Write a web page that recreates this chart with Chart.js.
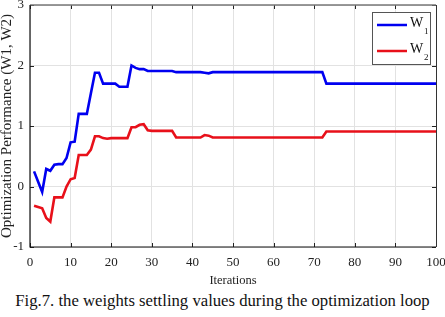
<!DOCTYPE html>
<html>
<head>
<meta charset="utf-8">
<script src="https://cdn.jsdelivr.net/npm/chart.js@4"></script>
<style>
html,body{margin:0;padding:0;background:#fff;}
#wrap{position:relative;width:445px;height:289px;}
#cap{width:445px;height:28px;text-align:center;font-family:"Liberation Serif",serif;font-size:16.7px;line-height:24px;color:#111;white-space:nowrap;}
</style>
</head>
<body>
<div id="wrap"><canvas id="c" width="445" height="289"></canvas></div>
<div id="cap">Fig.7. the weights settling values during the optimization loop</div>
<script>
const iterations = Array.from({length:100},(_,i)=>i+1);
const w1 = [0.25,0.08,-0.09,0.29,0.26,0.36,0.37,0.37,0.47,0.73,
            0.74,1.20,1.20,1.20,1.54,1.88,1.88,1.70,1.70,1.70,
            1.70,1.65,1.65,1.65,2.00,1.96,1.94,1.94,1.91,1.91,
            1.91,1.91,1.91,1.91,1.91,1.89,1.89,1.89,1.89,1.89,
            1.89,1.89,1.88,1.87,1.89,1.89,1.89,1.89,1.89,1.89,
            1.89,1.89,1.89,1.89,1.89,1.89,1.89,1.89,1.89,1.89,
            1.89,1.89,1.89,1.89,1.89,1.89,1.89,1.89,1.89,1.89,
            1.89,1.89,1.70,1.70,1.70,1.70,1.70,1.70,1.70,1.70,
            1.70,1.70,1.70,1.70,1.70,1.70,1.70,1.70,1.70,1.70,
            1.70,1.70,1.70,1.70,1.70,1.70,1.70,1.70,1.70,1.70];
const w2 = [-0.32,-0.34,-0.36,-0.52,-0.58,-0.18,-0.18,-0.18,0.00,0.12,
            0.14,0.52,0.52,0.52,0.61,0.83,0.83,0.80,0.79,0.80,
            0.80,0.80,0.80,0.80,0.98,0.98,1.02,1.03,0.93,0.92,
            0.92,0.92,0.92,0.92,0.92,0.81,0.81,0.81,0.81,0.81,
            0.81,0.81,0.85,0.84,0.81,0.81,0.81,0.81,0.81,0.81,
            0.81,0.81,0.81,0.81,0.81,0.81,0.81,0.81,0.81,0.81,
            0.81,0.81,0.81,0.81,0.81,0.81,0.81,0.81,0.81,0.81,
            0.81,0.81,0.91,0.91,0.91,0.91,0.91,0.91,0.91,0.91,
            0.91,0.91,0.91,0.91,0.91,0.91,0.91,0.91,0.91,0.91,
            0.91,0.91,0.91,0.91,0.91,0.91,0.91,0.91,0.91,0.91];
const seriesLabels = ['W1','W2'];
const xTicks = [0,10,20,30,40,50,60,70,80,90,100];
const yTicks = [-1,0,1,2,3];

const serif = '"Liberation Serif", "Times New Roman", serif';

const framePlugin = {
  id:'frame',
  afterDraw(chart){
    const {ctx, chartArea:a, scales} = chart;
    ctx.save();
    ctx.strokeStyle = '#222'; ctx.lineWidth = 1;
    yTicks.forEach(v=>{
      const y = Math.round(scales.y.getPixelForValue(v))+0.5;
      ctx.beginPath(); ctx.moveTo(a.left,y); ctx.lineTo(a.left+4,y);
      ctx.moveTo(a.right,y); ctx.lineTo(a.right-4,y); ctx.stroke();
    });
    xTicks.forEach(v=>{
      const x = Math.round(scales.x.getPixelForValue(v))+0.5;
      ctx.beginPath(); ctx.moveTo(x,a.bottom); ctx.lineTo(x,a.bottom-4);
      ctx.moveTo(x,a.top); ctx.lineTo(x,a.top+4); ctx.stroke();
    });
    ctx.strokeStyle = '#777'; ctx.lineWidth = 1.5;
    ctx.beginPath(); ctx.moveTo(a.left,a.top); ctx.lineTo(a.right,a.top); ctx.stroke();
    ctx.strokeStyle = '#333'; ctx.lineWidth = 1;
    ctx.beginPath(); ctx.moveTo(a.right+0.5,a.top); ctx.lineTo(a.right+0.5,a.bottom); ctx.stroke();
    ctx.strokeStyle = '#111'; ctx.lineWidth = 1.2;
    ctx.beginPath(); ctx.moveTo(a.left,a.top); ctx.lineTo(a.left,a.bottom); ctx.lineTo(a.right,a.bottom); ctx.stroke();
    const lx = a.left + 342, ly = a.top + 7, lw = 58, lh = 52;
    ctx.fillStyle = '#fff'; ctx.fillRect(lx,ly,lw,lh);
    ctx.strokeStyle = '#555'; ctx.lineWidth = 1; ctx.strokeRect(lx+0.5,ly+0.5,lw,lh);
    chart.data.datasets.forEach((ds,i)=>{
      const yy = ly + 13 + i*26;
      ctx.strokeStyle = ds.borderColor; ctx.lineWidth = 2.5;
      ctx.beginPath(); ctx.moveTo(lx+5,yy); ctx.lineTo(lx+35,yy); ctx.stroke();
      ctx.fillStyle = '#111'; ctx.textBaseline = 'alphabetic'; ctx.textAlign='left';
      ctx.font = '14px ' + serif;
      ctx.fillText(ds.label.charAt(0), lx+38, yy+2);
      ctx.font = '9px ' + serif;
      ctx.fillText(ds.label.slice(1), lx+52, yy+9);
    });
    ctx.restore();
  }
};

new Chart(document.getElementById('c'), {
  type:'line',
  data:{
    labels: iterations,
    datasets:[
      {label:seriesLabels[0], data: iterations.map((x,i)=>({x, y:w1[i]})), borderColor:'#0000f0', borderWidth:2.6, pointRadius:0, tension:0, fill:false},
      {label:seriesLabels[1], data: iterations.map((x,i)=>({x, y:w2[i]})), borderColor:'#e8101a', borderWidth:2.6, pointRadius:0, tension:0, fill:false}
    ]
  },
  options:{
    responsive:false,
    animation:false,
    events:[],
    layout:{padding:{top:5,right:9,bottom:0,left:0}},
    plugins:{legend:{display:false}, tooltip:{enabled:false}, title:{display:false}},
    scales:{
      x:{
        type:'linear', min:0, max:100,
        afterBuildTicks: s => { s.ticks = xTicks.map(v=>({value:v})); },
        afterFit: s => { s.height = 42; s.paddingLeft = 0; s.paddingRight = 0; },
        grid:{color:'#e2e2e2', drawTicks:false, lineWidth:1},
        border:{display:false},
        ticks:{padding:8, color:'#222', font:{family:serif, size:13}, maxRotation:0, autoSkip:false},
        title:{display:true, text:'Iterations', color:'#222', font:{family:serif, size:12.5}, padding:{top:0,bottom:1}}
      },
      y:{
        type:'linear', min:-1, max:3,
        afterBuildTicks: s => { s.ticks = yTicks.map(v=>({value:v})); },
        afterFit: s => { s.width = 30; s.paddingTop = 0; s.paddingBottom = 0; },
        grid:{color:'#e2e2e2', drawTicks:false, lineWidth:1},
        border:{display:false},
        ticks:{padding:6, color:'#222', font:{family:serif, size:13}},
        title:{display:true, text:'Optimization Performance (W1, W2)', color:'#222', font:{family:serif, size:15, lineHeight:1}, padding:{top:0,bottom:0}}
      }
    }
  },
  plugins:[framePlugin]
});
</script>
</body>
</html>
